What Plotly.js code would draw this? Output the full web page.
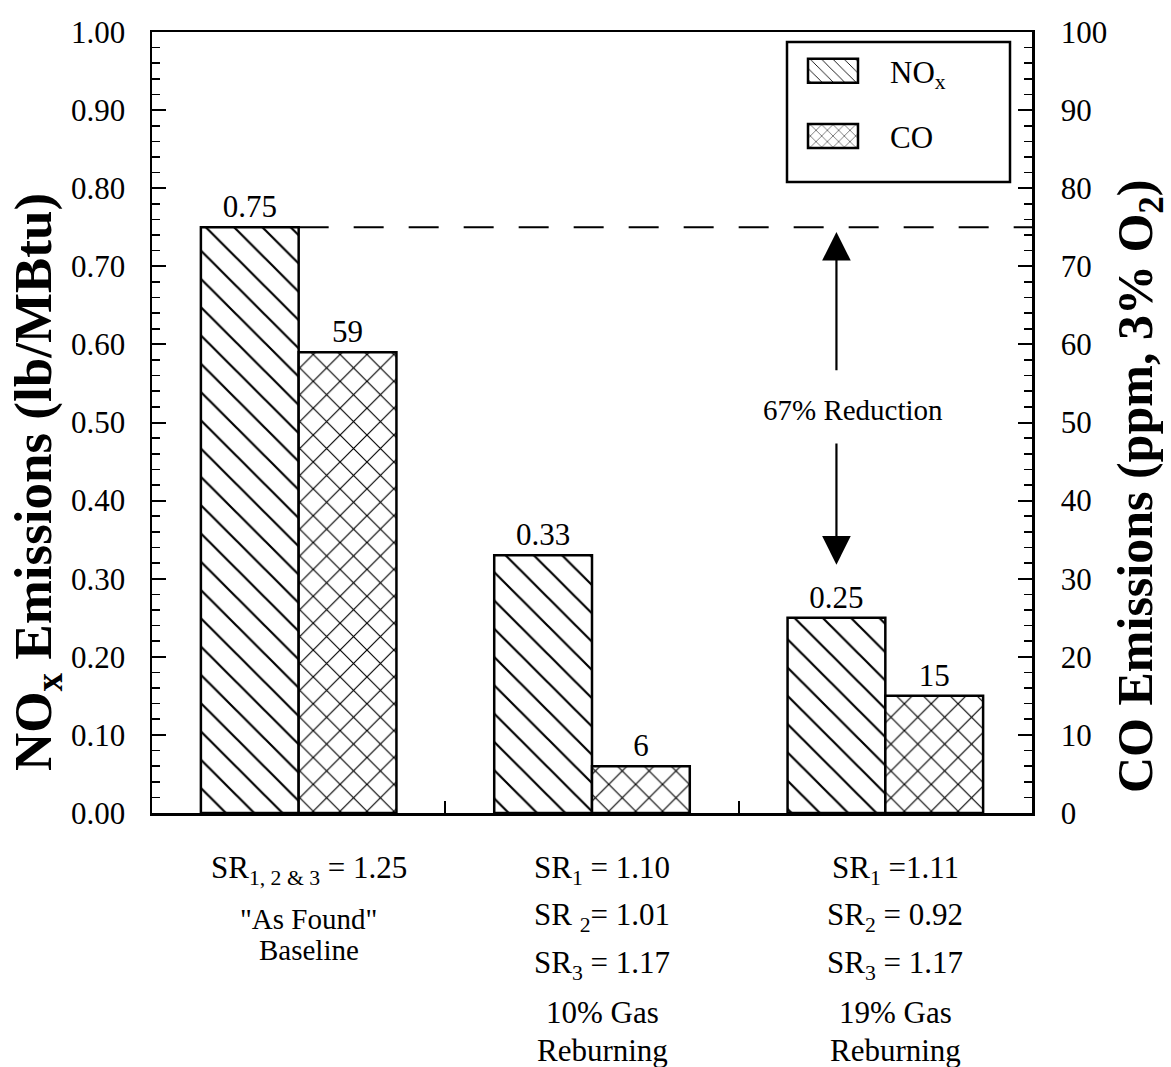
<!DOCTYPE html>
<html>
<head>
<meta charset="utf-8">
<script src="https://cdn.plot.ly/plotly-3.0.1.min.js"></script>
<style>html,body{margin:0;padding:0;background:#fff;}#chart{width:1171px;height:1067px;}</style>
</head>
<body>
<div id="chart"></div>
<script>
// ---- data ----
const categories = ["Baseline", "10% Gas Reburning", "19% Gas Reburning"];
const noxValues = [0.75, 0.33, 0.25];      // lb/MBtu (left axis)
const coValues = [59, 6, 15];              // ppm, 3% O2 (right axis)
const noxLabels = ["0.75", "0.33", "0.25"];
const coLabels = ["59", "6", "15"];
const categoryLabelLines = [
  ["SR<sub>1, 2 & 3</sub> = 1.25", "\"As Found\"", "Baseline"],
  ["SR<sub>1</sub> = 1.10", "SR <sub>2</sub>= 1.01", "SR<sub>3</sub> = 1.17", "10% Gas", "Reburning"],
  ["SR<sub>1</sub> =1.11", "SR<sub>2</sub> = 0.92", "SR<sub>3</sub> = 1.17", "19% Gas", "Reburning"]
];
const leftTicks = [0, 0.1, 0.2, 0.3, 0.4, 0.5, 0.6, 0.7, 0.8, 0.9, 1.0];
const leftTickText = ["0.00","0.10","0.20","0.30","0.40","0.50","0.60","0.70","0.80","0.90","1.00"];
const leftAxisTitle = "<b>NO<sub>x</sub> Emissions (lb/MBtu)</b>";
const rightAxisTitle = "<b>CO Emissions (ppm, 3% O<sub>2</sub>)</b>";
const reductionText = "67% Reduction";
const baselineNox = noxValues[0];
const reducedNox = noxValues[2];

// ---- layout helpers ----
const FONT = "Liberation Serif";
const W = 1171, H = 1067;
const M = {l: 152, r: 139, t: 32, b: 254};
const plotH = H - M.t - M.b;
const plotW = W - M.l - M.r;
const py = p => (H - M.b - p) / plotH;   // pixel -> paper y
const px = p => (p - M.l) / plotW;       // pixel -> paper x
const BW = 1 / 3;
const xIdx = categories.map((c, i) => i);

const patternCommon = {fgcolor: "#000", bgcolor: "#fff", fillmode: "replace"};

const traces = [
  {
    type: "bar", name: "NO<sub>x</sub>", x: xIdx, y: noxValues,
    width: BW, offset: -BW, xaxis: "x", yaxis: "y",
    text: noxLabels, textposition: "outside", cliponaxis: false,
    textfont: {family: FONT, size: 31, color: "#000"},
    marker: {color: "#fff", line: {color: "#000", width: 2.5},
      pattern: Object.assign({shape: "\\", size: 20, solidity: 0.11}, patternCommon)},
    legendgroup: "a", hoverinfo: "skip"
  },
  {
    type: "bar", name: "CO", x: xIdx, y: coValues,
    width: BW, offset: 0, xaxis: "x", yaxis: "y2",
    text: coLabels, textposition: "outside", cliponaxis: false,
    textfont: {family: FONT, size: 31, color: "#000"},
    marker: {color: "#fff", line: {color: "#000", width: 2.5},
      pattern: Object.assign({shape: "x", size: 19, solidity: 0.12}, patternCommon)},
    legendgroup: "b", hoverinfo: "skip"
  }
];

const annotations = [];
// category labels below the axis
const lineY = [
  [870, 919, 950],
  [870, 917, 965, 1012, 1050],
  [870, 917, 965, 1012, 1050]
];
const lineSize = [
  [31, 29, 29],
  [31, 31, 31, 31, 31],
  [31, 31, 31, 31, 31]
];
categoryLabelLines.forEach((lines, i) => {
  lines.forEach((t, j) => {
    annotations.push({
      xref: "x", yref: "paper", x: i, y: py(lineY[i][j]), xshift: 10,
      text: t, showarrow: false, xanchor: "center", yanchor: "middle",
      font: {family: FONT, size: lineSize[i][j], color: "#000"}
    });
  });
});
// axis titles (placed as annotations so they can sit off-centre like the reference)
annotations.push({
  xref: "paper", yref: "paper", x: px(37), y: py(482), textangle: -90,
  text: leftAxisTitle, showarrow: false, xanchor: "center", yanchor: "middle",
  font: {family: FONT, size: 53, color: "#000"}
});
annotations.push({
  xref: "paper", yref: "paper", x: px(1139), y: py(487), textangle: -90,
  text: rightAxisTitle, showarrow: false, xanchor: "center", yanchor: "middle",
  font: {family: FONT, size: 50, color: "#000"}
});
// reduction arrows
const arrowX = 2 - BW / 2;
annotations.push({
  xref: "x", yref: "y", axref: "x", ayref: "y",
  x: arrowX, y: baselineNox - 0.006, ax: arrowX, ay: 0.565,
  text: "", showarrow: true, arrowhead: 2, arrowsize: 2.6, arrowwidth: 2.2, arrowcolor: "#000"
});
annotations.push({
  xref: "x", yref: "y", axref: "x", ayref: "y",
  x: arrowX, y: 0.318, ax: arrowX, ay: 0.475,
  text: "", showarrow: true, arrowhead: 2, arrowsize: 2.6, arrowwidth: 2.2, arrowcolor: "#000"
});
annotations.push({
  xref: "x", yref: "y", x: arrowX, y: (baselineNox + reducedNox) / 2 + 0.016, xshift: 17,
  text: reductionText, showarrow: false,
  font: {family: FONT, size: 29, color: "#000"}
});

const shapes = [
  // baseline dashed reference line
  {type: "line", xref: "x", yref: "y", x0: 0, x1: 2.5, y0: baselineNox, y1: baselineNox,
   line: {color: "#000", width: 2.2, dash: "30px,25px"}},
  // legend box
  {type: "rect", xref: "paper", yref: "paper", x0: px(787), x1: px(1010), y0: py(182), y1: py(42),
   line: {color: "#000", width: 2.5}, fillcolor: "rgba(0,0,0,0)"}
];

const axisCommon = {
  showline: true, linecolor: "#000", linewidth: 2.5, showgrid: false, zeroline: false,
  ticks: "inside", tickcolor: "#000", tickwidth: 2, ticklen: 14,
  tickfont: {family: FONT, size: 31, color: "#000"}
};

const layout = {
  width: W, height: H,
  margin: M,
  paper_bgcolor: "#fff", plot_bgcolor: "#fff",
  font: {family: FONT, color: "#000"},
  showlegend: true,
  legend: {x: px(800), y: py(44), xanchor: "left", yanchor: "top",
    bgcolor: "rgba(0,0,0,0)", borderwidth: 0, traceorder: "grouped", tracegroupgap: 22,
    itemwidth: 80, font: {family: FONT, size: 31, color: "#000"}},
  bargap: 0,
  xaxis: Object.assign({}, axisCommon, {
    type: "linear", range: [-0.5, 2.5], tickvals: [0.5, 1.5], showticklabels: false,
    ticklen: 12, mirror: true
  }),
  yaxis: Object.assign({}, axisCommon, {
    range: [0, 1.0], tickvals: leftTicks, ticktext: leftTickText, ticklabelstandoff: 18,
    minor: {ticks: "inside", ticklen: 8, tickwidth: 1.6, dtick: 0.02, tickcolor: "#000", showgrid: false}
  }),
  yaxis2: Object.assign({}, axisCommon, {
    overlaying: "y", side: "right", range: [0, 100], dtick: 10, tick0: 0, ticklabelstandoff: 20,
    minor: {ticks: "inside", ticklen: 8, tickwidth: 1.6, dtick: 2, tickcolor: "#000", showgrid: false}
  }),
  annotations: annotations,
  shapes: shapes
};

// enlarge legend swatches to match the reference's wide boxes
function enlargeSwatches() {
  document.querySelectorAll("#chart .legend .legendpoints path").forEach(p => {
    p.setAttribute("d", "M25,12H-25V-12H25Z");
    p.setAttribute("transform", "translate(33,0)");
  });
}

Plotly.newPlot("chart", traces, layout, {displayModeBar: false, staticPlot: true}).then(gd => {
  enlargeSwatches();
  gd.on("plotly_afterplot", enlargeSwatches);
});
</script>
</body>
</html>
